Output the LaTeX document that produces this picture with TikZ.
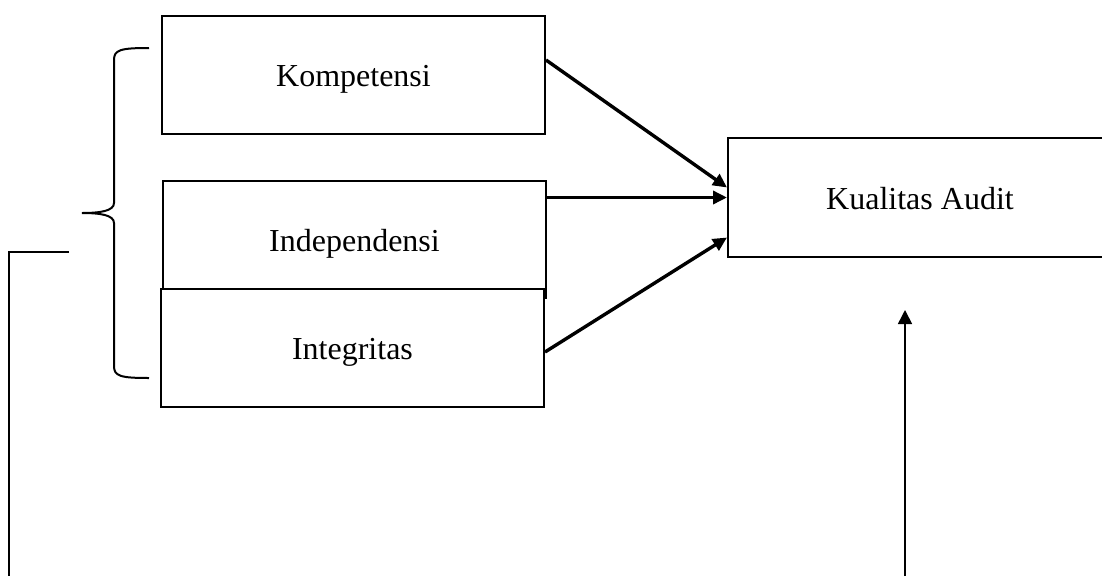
\documentclass[tikz,border=0pt]{standalone}
\usepackage{fontspec}
\setmainfont{Liberation Serif}
\usetikzlibrary{arrows.meta}
\begin{document}
\begin{tikzpicture}[x=1pt,y=-1pt,
  varbox/.style={draw=black, line width=2pt, fill=white, inner sep=0pt,
    minimum width=383pt, minimum height=118pt, text height=23.5pt, text depth=0pt,
    font=\fontsize{32}{38}\selectfont},
  mainarrow/.style={line width=3.4pt, -{Triangle[length=14pt,width=13pt]}},
  thinline/.style={line width=1.2pt},
  uparrow/.style={line width=1.6pt, -{Triangle[length=14pt,width=14pt]}},
  bracestyle/.style={line width=2pt}]
\useasboundingbox (0,0) rectangle (1102,576);
\begin{scope}
\clip (0,0) rectangle (1102,576);
\node[varbox] (komp) at (353.5,75) {Kompetensi};
\node[varbox, minimum height=117pt] (ind) at (354.5,239.5) {Independensi};
\node[varbox] (integ) at (352.5,348) {Integritas};
\node[varbox, minimum width=384pt, minimum height=119pt] (kual) at (920,197.5) {Kualitas Audit};
\end{scope}
\draw[mainarrow] ([yshift=15pt]komp.east) -- ([yshift=10pt]kual.west);
\draw[mainarrow] (kual.west -| ind.east) -- (kual.west);
\draw[mainarrow] ([yshift=-4pt]integ.east) -- ([yshift=-40pt]kual.west);
% brace
\coordinate (bt) at (149,48);
\coordinate (bb) at (149,378);
\coordinate (btip) at (82,213);
\draw[bracestyle] (bt) .. controls (120,48) and (114,50) .. (114,60)
  -- (114,203) .. controls (114,211) and (100,213) .. (btip)
  .. controls (100,213) and (114,215) .. (114,223)
  -- (114,366) .. controls (114,376) and (120,378) .. (bb);
% left line
\coordinate (lt) at (69,252);
\coordinate (lc) at (9,252);
\coordinate (lb) at (9,576);
\draw[thinline] (lt) -- (lc) -- (lb);
% up arrow
\coordinate (ub) at (905,576);
\coordinate (ut) at (905,310);
\draw[uparrow] (ub) -- (ut);
\end{tikzpicture}
\end{document}
